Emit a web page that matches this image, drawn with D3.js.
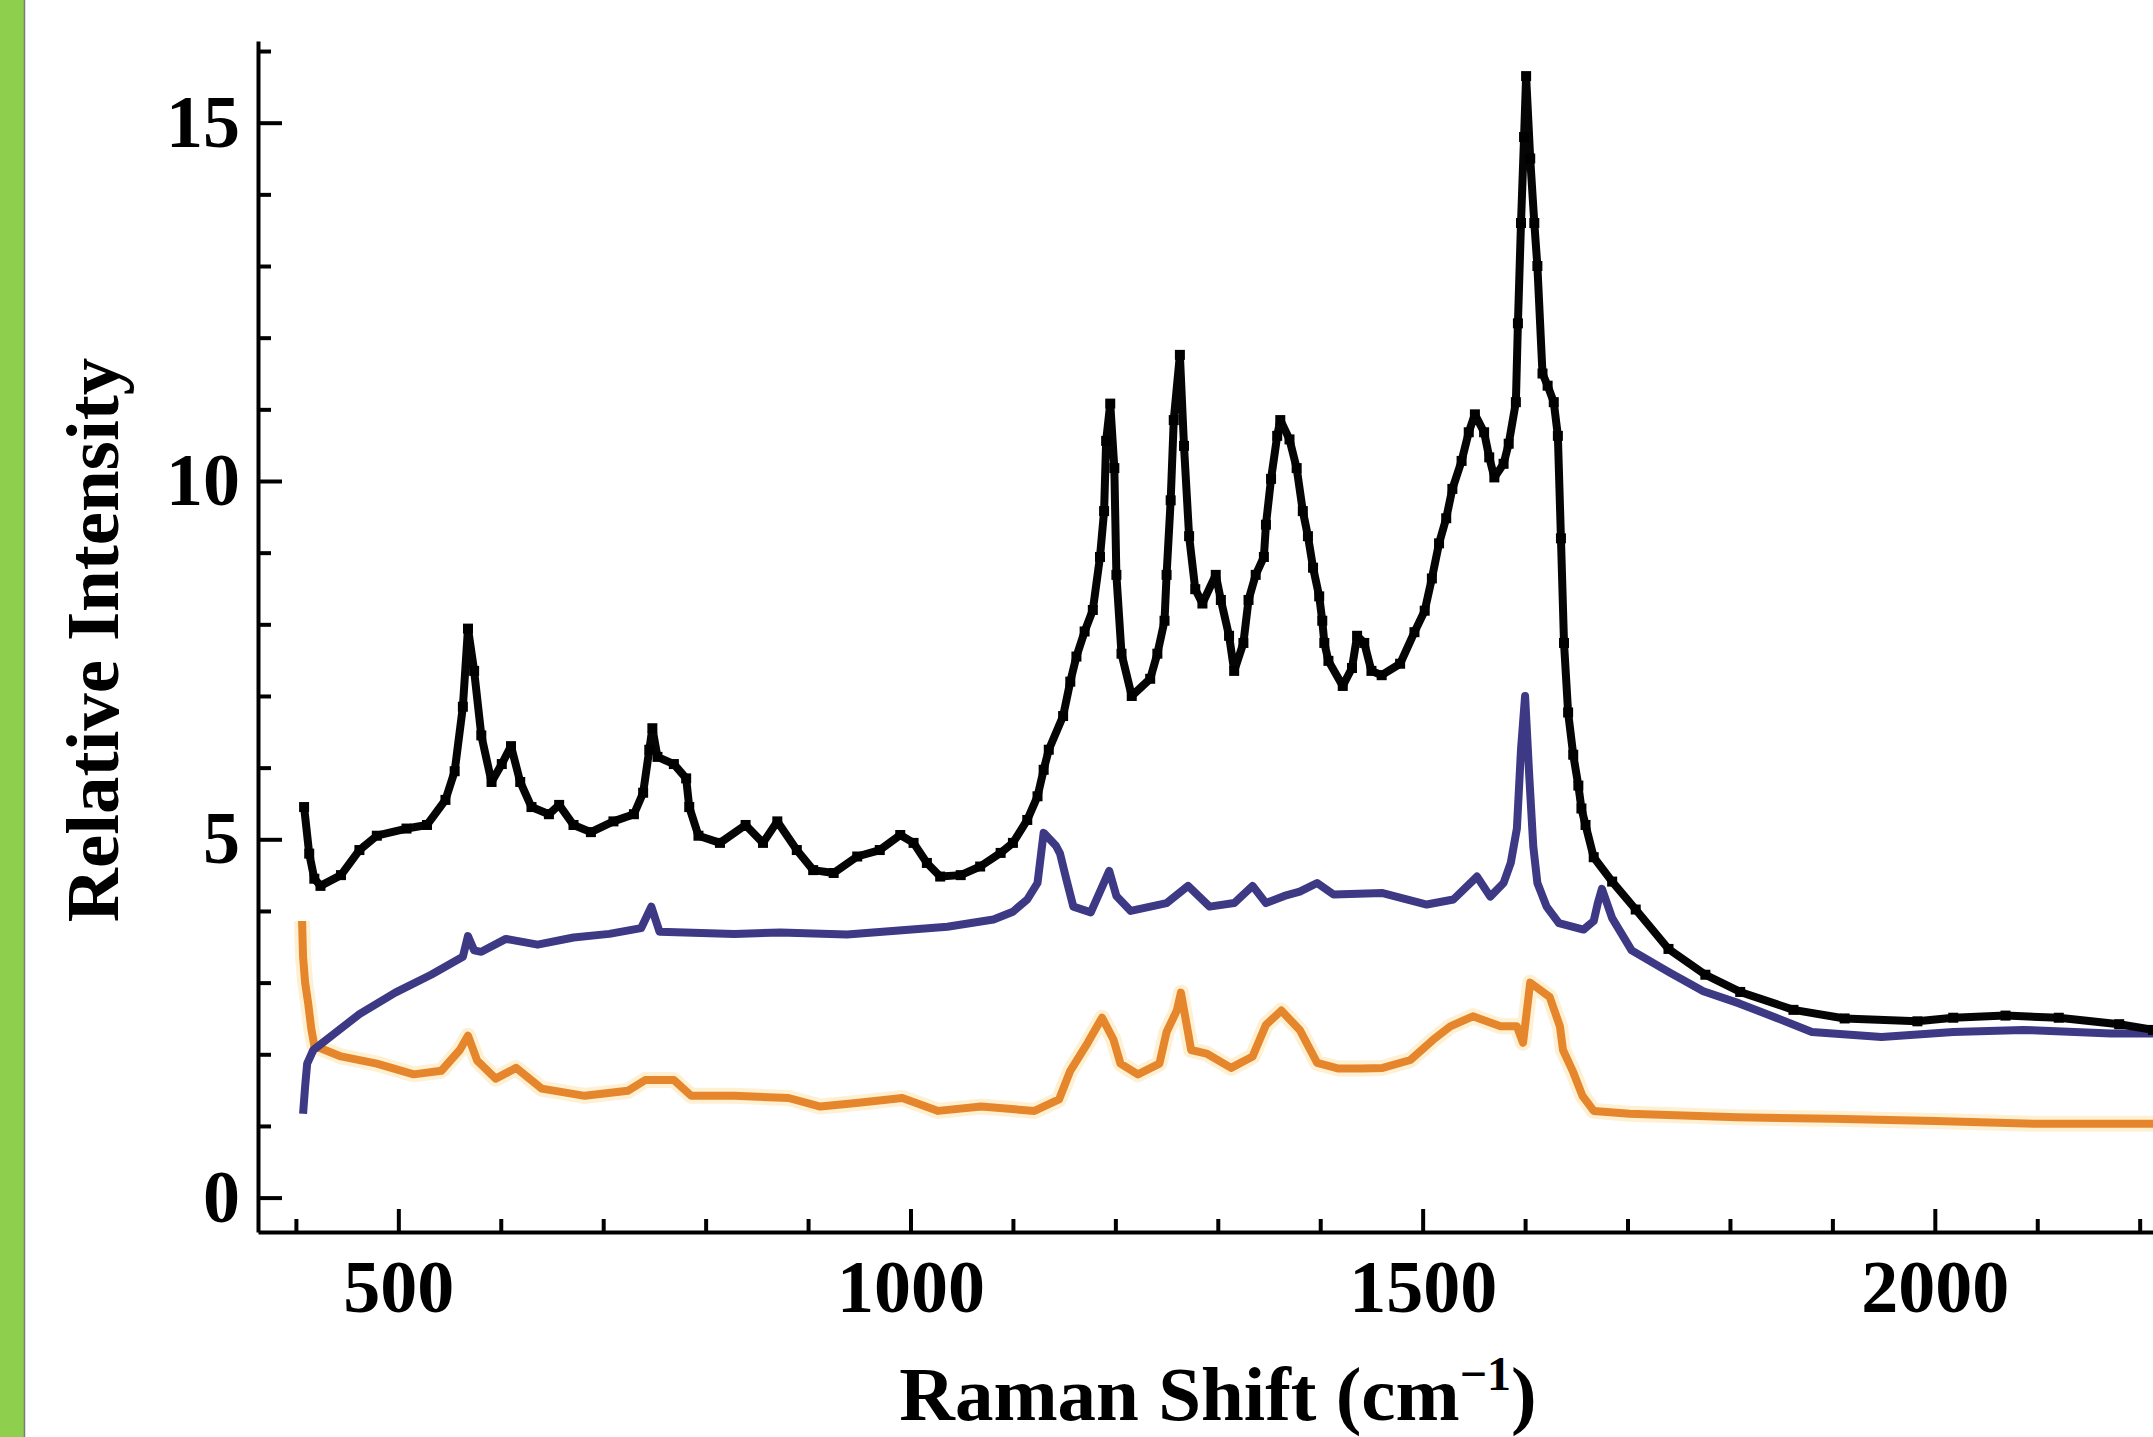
<!DOCTYPE html>
<html>
<head>
<meta charset="utf-8">
<script src="https://cdn.jsdelivr.net/npm/d3@7"></script>
<style>
  html, body { margin: 0; padding: 0; background: #fff; }
  svg { display: block; }
  text { font-family: "Liberation Serif", "Times New Roman", serif; font-weight: bold; fill: #000; }
</style>
</head>
<body>
<svg id="chart" width="2153" height="1437"></svg>
<script>
// Raman spectra, values
const blackShift = [408, 413, 418, 424, 444, 462, 479, 508, 528, 546, 555, 563, 568, 574, 581, 591, 601, 610, 619, 630,
  647, 657, 671, 688, 710, 730, 739, 745, 748, 753, 769, 781, 784, 793, 814, 839, 856, 870, 889, 905,
  925, 948, 970, 990, 1003, 1016, 1029, 1049, 1068, 1088, 1100, 1114, 1124, 1130, 1135, 1149, 1156, 1162, 1170, 1178,
  1185, 1189, 1191, 1195, 1199, 1201, 1206, 1216, 1234, 1241, 1248, 1250, 1254, 1257, 1263, 1267, 1272, 1278, 1285, 1298,
  1303, 1311, 1316, 1325, 1330, 1337, 1345, 1347, 1352, 1358, 1361, 1370, 1377, 1383, 1388, 1393, 1399, 1402, 1404, 1408,
  1422, 1431, 1436, 1443, 1450, 1460, 1478, 1492, 1502, 1509, 1516, 1523, 1529, 1538, 1545, 1551, 1560, 1565, 1570, 1579,
  1584, 1591, 1593, 1596, 1599, 1601, 1605, 1609, 1612, 1617, 1622, 1628, 1632, 1635, 1638, 1642, 1647, 1652, 1655, 1659,
  1667, 1685, 1708, 1740, 1776, 1810, 1862, 1912, 1983, 2018, 2069, 2121, 2180, 2213];
const blackIntensity = [5.45, 4.8, 4.45, 4.35, 4.5, 4.85, 5.05, 5.15, 5.2, 5.55, 5.95, 6.85, 7.94, 7.35, 6.45, 5.8, 6.05, 6.3, 5.8, 5.45,
  5.35, 5.48, 5.2, 5.1, 5.25, 5.35, 5.65, 6.25, 6.55, 6.15, 6.05, 5.85, 5.45, 5.05, 4.95, 5.2, 4.95, 5.25, 4.85, 4.57,
  4.53, 4.76, 4.85, 5.06, 4.95, 4.67, 4.48, 4.5, 4.62, 4.81, 4.95, 5.27, 5.6, 5.97, 6.25, 6.72, 7.2, 7.55, 7.9, 8.2,
  8.94, 9.58, 10.56, 11.08, 10.18, 8.69, 7.59, 7.0, 7.24, 7.59, 8.05, 8.69, 9.73, 10.85, 11.76, 10.49, 9.23, 8.49, 8.29, 8.69,
  8.34, 7.84, 7.35, 7.74, 8.34, 8.69, 8.94, 9.39, 10.03, 10.63, 10.85, 10.58, 10.18, 9.58, 9.23, 8.79, 8.39, 8.05, 7.74, 7.49,
  7.14, 7.39, 7.84, 7.74, 7.35, 7.29, 7.45, 7.89, 8.19, 8.64, 9.13, 9.48, 9.89, 10.28, 10.68, 10.93, 10.68, 10.33, 10.05, 10.24,
  10.52, 11.1, 12.2, 13.6, 14.8, 15.65, 14.5, 13.6, 13.0, 11.5, 11.33, 11.1, 10.63, 9.2, 7.74, 6.77, 6.18, 5.75, 5.43, 5.2,
  4.75, 4.41, 4.02, 3.47, 3.11, 2.87, 2.62, 2.5, 2.46, 2.51, 2.54, 2.51, 2.42, 2.34];

const blueShift = [407, 409, 411, 417, 435, 462, 497, 532, 563, 568, 574, 581, 605, 636, 671, 706, 737, 747, 755, 828,
  873, 938, 1036, 1081, 1100, 1114, 1124, 1130, 1142, 1146, 1152, 1159, 1176, 1194, 1201, 1215, 1250, 1271, 1292, 1316,
  1334, 1347, 1365, 1380, 1397, 1413, 1461, 1504, 1530, 1553, 1566, 1579, 1586, 1592, 1596, 1600, 1604, 1608, 1612, 1621,
  1633, 1657, 1667, 1671, 1675, 1685, 1704, 1740, 1774, 1809, 1845, 1880, 1948, 2018, 2086, 2172, 2213];
const blueIntensity = [1.17, 1.55, 1.87, 2.06, 2.26, 2.56, 2.86, 3.11, 3.36, 3.65, 3.45, 3.43, 3.61, 3.53, 3.63, 3.68, 3.76, 4.06, 3.71, 3.68,
  3.7, 3.67, 3.78, 3.88, 3.99, 4.16, 4.39, 5.09, 4.91, 4.8, 4.45, 4.06, 3.98, 4.56, 4.21, 4.0, 4.11, 4.35, 4.06, 4.11,
  4.35, 4.11, 4.21, 4.27, 4.39, 4.23, 4.25, 4.09, 4.16, 4.48, 4.2, 4.39, 4.67, 5.15, 6.25, 7.0, 5.9, 4.9, 4.39, 4.06,
  3.83, 3.74, 3.86, 4.11, 4.31, 3.9, 3.45, 3.15, 2.88, 2.71, 2.51, 2.31, 2.24, 2.31, 2.34, 2.29, 2.29];

const orangeShift = [406, 407, 409, 412, 415, 418, 444, 479, 515, 542, 560, 568, 577, 595, 615, 640, 682, 724, 741, 769,
  786, 828, 881, 912, 947, 992, 1027, 1069, 1121, 1145, 1156, 1173, 1187, 1198, 1205, 1222, 1243, 1250, 1260, 1264,
  1269, 1274, 1289, 1313, 1334, 1347, 1362, 1380, 1397, 1418, 1440, 1461, 1488, 1510, 1527, 1549, 1576, 1592, 1598, 1605,
  1624, 1634, 1637, 1647, 1656, 1667, 1702, 1807, 1900, 2000, 2100, 2213];
const orangeIntensity = [3.86, 3.36, 3.0, 2.71, 2.36, 2.12, 1.97, 1.87, 1.72, 1.77, 2.06, 2.26, 1.91, 1.66, 1.81, 1.52, 1.42, 1.49, 1.64, 1.64,
  1.42, 1.42, 1.39, 1.27, 1.32, 1.39, 1.21, 1.27, 1.21, 1.37, 1.77, 2.16, 2.51, 2.21, 1.87, 1.72, 1.87, 2.31, 2.61, 2.86,
  2.46, 2.06, 2.01, 1.81, 1.97, 2.41, 2.61, 2.34, 1.88, 1.8, 1.8, 1.81, 1.92, 2.2, 2.39, 2.53, 2.39, 2.39, 2.16, 3.0,
  2.8, 2.39, 2.06, 1.75, 1.42, 1.21, 1.17, 1.12, 1.1, 1.07, 1.03, 1.03];

const xMajorTicks = [500, 1000, 1500, 2000];
const yMajorTicks = [0, 5, 10, 15];

const svg = d3.select('#chart');

// green strip at the left edge
svg.append('rect').attr('x', 0).attr('y', 0).attr('width', 24).attr('height', 1437).attr('fill', '#8fcf4e');
svg.append('line').attr('x1', 24.5).attr('x2', 24.5).attr('y1', 0).attr('y2', 1437)
    .attr('stroke', '#7a7a7a').attr('stroke-width', 1.5);

const x = d3.scaleLinear().domain([363, 2213]).range([258, 2153]);
const y = d3.scaleLinear().domain([-0.48, 16.14]).range([1232, 41]);

function zip(xs, ys) {
  return xs.map(function(d, i) { return [d, ys[i]]; });
}

const line = d3.line()
    .x(function(d) { return x(d[0]); })
    .y(function(d) { return y(d[1]); });

const plot = svg.append('g');

// orange halo + line
plot.append('path').datum(zip(orangeShift, orangeIntensity))
    .attr('d', line).attr('fill', 'none')
    .attr('stroke', '#fde6b4').attr('stroke-width', 16).attr('stroke-linejoin', 'round').attr('opacity', 0.6);
plot.append('path').datum(zip(orangeShift, orangeIntensity))
    .attr('d', line).attr('fill', 'none')
    .attr('stroke', '#e5862c').attr('stroke-width', 8).attr('stroke-linejoin', 'round');

plot.append('path').datum(zip(blueShift, blueIntensity))
    .attr('d', line).attr('fill', 'none')
    .attr('stroke', '#3d3985').attr('stroke-width', 8).attr('stroke-linejoin', 'round');

const black = zip(blackShift, blackIntensity);
plot.append('path').datum(black)
    .attr('d', line).attr('fill', 'none')
    .attr('stroke', '#050505').attr('stroke-width', 8).attr('stroke-linejoin', 'round');
plot.selectAll('rect.pt').data(black).enter().append('rect')
    .attr('class', 'pt')
    .attr('x', function(d) { return x(d[0]) - 5; })
    .attr('y', function(d) { return y(d[1]) - 5; })
    .attr('width', 10).attr('height', 10)
    .attr('fill', '#000');

/*
Axes: ticks point inward
 */
const xMinor = d3.range(400, 2201, 100).filter(function(d) { return d % 500 !== 0; });
const yMinor = d3.range(0, 17, 1).filter(function(d) { return d % 5 !== 0; });

const xAxisG = svg.append('g').attr('transform', 'translate(0,1232)');
xAxisG.append('g')
    .call(d3.axisBottom(x).tickValues(xMinor).tickSize(-13).tickSizeOuter(0).tickFormat(''))
    .call(function(g) { g.select('.domain').remove(); });
xAxisG.append('g')
    .call(d3.axisBottom(x).tickValues(xMajorTicks).tickSize(-23).tickSizeOuter(0).tickPadding(27).tickFormat(d3.format('d')));

const yAxisG = svg.append('g').attr('transform', 'translate(258,0)');
yAxisG.append('g')
    .call(d3.axisLeft(y).tickValues(yMinor).tickSize(-13).tickSizeOuter(0).tickFormat(''))
    .call(function(g) { g.select('.domain').remove(); });
yAxisG.append('g')
    .call(d3.axisLeft(y).tickValues(yMajorTicks).tickSize(-24).tickSizeOuter(0).tickPadding(18).tickFormat(d3.format('d')));

svg.selectAll('.domain').attr('stroke', '#000').attr('stroke-width', 4);
svg.selectAll('.tick line').attr('stroke', '#000').attr('stroke-width', 4);
svg.selectAll('.tick text')
    .attr('font-family', '"Liberation Serif", "Times New Roman", serif')
    .attr('font-weight', 'bold')
    .attr('font-size', 74)
    .attr('fill', '#000');

// axis titles
svg.append('text')
    .attr('transform', 'translate(118,640) rotate(-90)')
    .attr('text-anchor', 'middle')
    .attr('font-size', 75)
    .text('Relative Intensity');

const xTitle = svg.append('text')
    .attr('x', 1218).attr('y', 1420)
    .attr('text-anchor', 'middle')
    .attr('font-size', 77);
xTitle.append('tspan').text('Raman Shift (cm');
xTitle.append('tspan').attr('dy', -30).attr('font-size', 48).text('\u22121');
xTitle.append('tspan').attr('dy', 30).text(')');
</script>
</body>
</html>
